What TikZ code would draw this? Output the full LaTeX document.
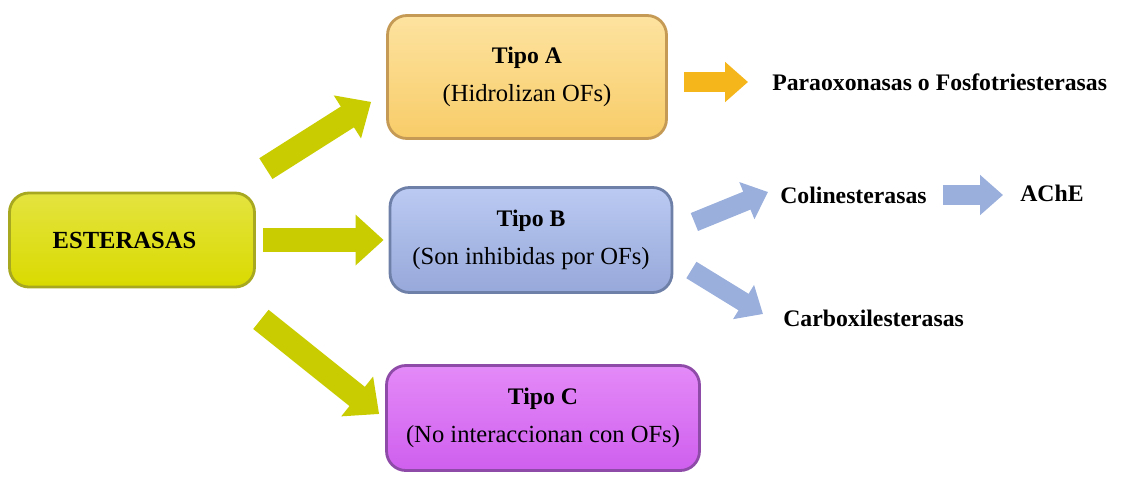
\documentclass[tikz,border=0pt]{standalone}
\usepackage{fontspec}
\setmainfont{Liberation Serif}
\usetikzlibrary{arrows.meta}
\definecolor{estyellow}{HTML}{DADA00}
\definecolor{estborder}{HTML}{A8A820}
\definecolor{arryellow}{HTML}{C8CC00}
\definecolor{aTop}{HTML}{FDE3A0}
\definecolor{aBot}{HTML}{F8CC68}
\definecolor{aBorder}{HTML}{C49A55}
\definecolor{bTop}{HTML}{BACAF2}
\definecolor{bBot}{HTML}{97A8DA}
\definecolor{bBorder}{HTML}{6E7FA8}
\definecolor{cTop}{HTML}{E48AF8}
\definecolor{cBot}{HTML}{CF5FEE}
\definecolor{cBorder}{HTML}{8E4BA8}
\definecolor{arrorange}{HTML}{F5B61C}
\definecolor{arrblue}{HTML}{9AAFDC}
\tikzset{
  tipobox/.style={rounded corners=11pt, line width=1.6pt, align=center,
    font=\fontsize{14}{22}\selectfont},
  fatarrow/.style={line width=14pt, -{Triangle[length=16pt,width=28pt]}},
  thinarrow/.style={line width=11pt, -{Triangle[length=13pt,width=22pt]}},
  label/.style={inner sep=0pt, anchor=west, font=\fontsize{13.5}{16}\selectfont\bfseries},
}
\newcommand{\tipotitle}[1]{{\fontsize{13.5}{16}\selectfont\bfseries #1}}

\begin{document}
\begin{tikzpicture}[x=0.02cm, y=-0.02cm]
\useasboundingbox (0,0) rectangle (1121,484);

\node[tipobox, draw=estborder, top color=estyellow!75!white, bottom color=estyellow,
  minimum width=4.9cm, minimum height=1.88cm] (esterasas) at (132,240)
  {\hspace*{-0.3cm}\fontsize{14}{16}\selectfont\bfseries ESTERASAS};

\node[tipobox, draw=aBorder, top color=aTop, bottom color=aBot,
  minimum width=5.58cm, minimum height=2.46cm] (tipoA) at (527,77)
  {\tipotitle{Tipo A}\\(Hidrolizan OFs)};
\node[tipobox, draw=bBorder, top color=bTop, bottom color=bBot,
  minimum width=5.64cm, minimum height=2.1cm] (tipoB) at (531,240)
  {\tipotitle{Tipo B}\\(Son inhibidas por OFs)};
\node[tipobox, draw=cBorder, top color=cTop, bottom color=cBot,
  minimum width=6.26cm, minimum height=2.1cm] (tipoC) at (543,418)
  {\tipotitle{Tipo C}\\(No interaccionan con OFs)};

\node[label] (paraox) at (772,82) {Paraoxonasas o Fosfotriesterasas};
\node[label] (colin) at (780,195) {Colinesterasas};
\node[label] (ache) at (1020,193) {AChE};
\node[label] (carbox) at (783,318) {Carboxilesterasas};

% flechas desde ESTERASAS
\draw[fatarrow, arryellow] ([shift={(10,-23)}]esterasas.north east) -- ([shift={(-15,-38)}]tipoA.south west);
\draw[fatarrow, arryellow] ([xshift=0.14cm]esterasas.east) -- ([xshift=-0.1cm]tipoB.west);
\draw[fatarrow, arryellow] ([shift={(5,31)}]esterasas.south east) -- ([shift={(-6,-4)}]tipoC.west);

\draw[thinarrow, arrorange] ([shift={(16,5)}]tipoA.east) -- ([xshift=-0.48cm]paraox.west);
\draw[thinarrow, arrblue] ([shift={(21,-18)}]tipoB.east) -- ([shift={(-12,-3)}]colin.west);
\draw[thinarrow, arrblue] ([shift={(18,30)}]tipoB.east) -- ([shift={(-20,-4)}]carbox.west);
\draw[thinarrow, arrblue] ([xshift=0.32cm]colin.east) -- ([shift={(-17,2)}]ache.west);

\end{tikzpicture}
\end{document}
